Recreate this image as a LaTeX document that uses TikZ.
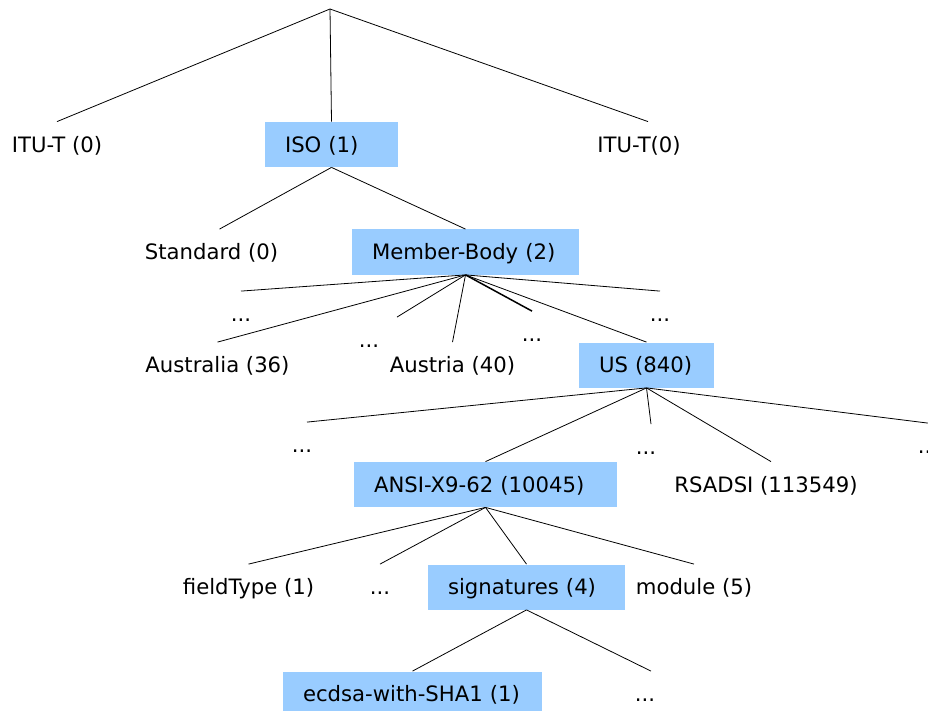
\documentclass[tikz,border=0pt]{standalone}
\usepackage{fontspec}
\setmainfont{DejaVu Sans}
\definecolor{boxblue}{RGB}{153,204,255}
\newcommand{\rowstrut}{\rule[-5pt]{0pt}{25.4pt}}
\tikzset{
  oid/.style={minimum height=45pt, inner ysep=0pt, inner xsep=0pt,
    font=\fontsize{21.2}{25}\selectfont, execute at begin node=\rowstrut},
  oidbox/.style={oid, fill=boxblue, inner xsep=20pt, align=left},
}
\begin{document}
\begin{tikzpicture}[x=1pt, y=-1pt, line width=0.8pt]
\useasboundingbox (0,0) rectangle (928,711);
\coordinate (root) at (330,9);

% level 1
\node[oid] (ituL) at (57,144.5) {ITU-T (0)};
\node[oidbox, text width=93pt] (iso) at (331.5,144.5) {ISO (1)};
\node[oid] (ituR) at (639,144.5) {ITU-T(0)};

% level 2
\node[oid] (std) at (211.5,252) {Standard (0)};
\node[oidbox, text width=187pt] (member) at (465.5,252) {Member-Body (2)};

% level 3
\node[oid] (dotsA) at (241,314) {...};
\node[oid] (aus) at (217.5,365) {Australia (36)};
\node[oid] (dotsB) at (369,340) {...};
\node[oid] (aut) at (452.5,365) {Austria (40)};
\node[oid] (dotsC) at (532,334) {...};
\node[oidbox, text width=95pt] (us) at (646.5,365) {US (840)};
\node[oid] (dotsD) at (660,314) {...};

% level 4
\node[oid] (dotsE) at (302,445) {...};
\node[oidbox, text width=223pt] (ansi) at (485.5,484.5) {ANSI-X9-62 (10045)};
\node[oid] (dotsF) at (646,447) {...};
\node[oid] (rsa) at (766,484.5) {RSADSI (113549)};
\node[oid] (dotsG) at (928,446) {...};

% level 5
\node[oid] (field) at (248.5,587) {fieldType (1)};
\node[oid] (dotsH) at (380,587) {...};
\node[oidbox, text width=157pt] (sig) at (526.5,587) {signatures (4)};
\node[oid] (module) at (694,587) {module (5)};

% level 6
\node[oidbox, text width=219pt] (ecdsa) at (412.5,694) {ecdsa-with-SHA1 (1)};
\node[oid] (dotsI) at (645,694) {...};

% edges
\draw (root) -- (ituL.north);
\draw (root) -- (iso.north);
\draw (root) -- ([xshift=9pt]ituR.north);
\draw (iso.south) -- ([xshift=8pt]std.north);
\draw (iso.south) -- (member.north);
\foreach \c in {dotsA, aus, aut, us, dotsD}
  \draw (member.south) -- (\c.north);
\draw (member.south) -- ([xshift=28pt]dotsB.north);
\draw[line width=1.5pt] (member.south) -- (dotsC.north);
\foreach \c in {dotsE, dotsF, rsa}
  \draw (us.south) -- ([xshift=5pt]\c.north);
\draw (us.south) -- (ansi.north);
\draw (us.south) -- (dotsG.north);
\foreach \c in {field, dotsH, sig, module}
  \draw (ansi.south) -- (\c.north);
\draw (sig.south) -- (ecdsa.north);
\draw (sig.south) -- ([xshift=6pt]dotsI.north);
\end{tikzpicture}
\end{document}
